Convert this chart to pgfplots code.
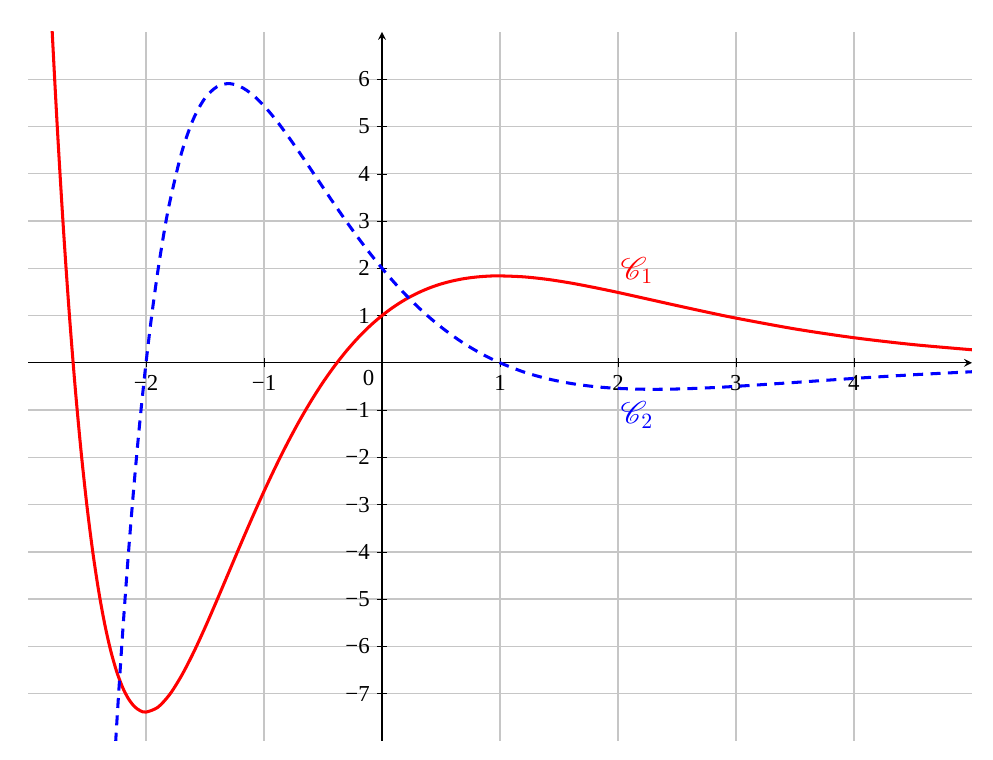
\documentclass[border=0pt]{standalone}
\usepackage{fontspec}
\setmainfont{Liberation Serif}
\usepackage{mathrsfs}
\usepackage{pgfplots}
\pgfplotsset{compat=1.18}
\begin{document}
\begin{tikzpicture}
\begin{axis}[
    scale only axis,
    width=434pt,
    height=326pt,
    axis lines=middle,
    xmin=-3, xmax=5,
    ymin=-8, ymax=7,
    xtick={-2,-1,1,2,3,4},
    xticklabels={−2,−1,1,2,3,4},
    ytick={-7,-6,-5,-4,-3,-2,-1,1,2,3,4,5,6},
    yticklabels={−7,−6,−5,−4,−3,−2,−1,1,2,3,4,5,6},
    ticklabel style={font=\fontsize{10.5}{12}\selectfont},
    grid=major,
    grid style={gray!45, line width=0.6pt},
    axis line style={black, line width=0.6pt},
    tick style={black},
]

% C1
\addplot[red, line width=1.4pt, smooth] coordinates {
    (-2.9,12.90)(-2.85,9.897)(-2.8,7.236)(-2.75,4.888)(-2.7,2.827)(-2.65,1.026)
    (-2.6,-0.539)(-2.55,-1.889)(-2.5,-3.046)(-2.45,-4.027)(-2.4,-4.850)
    (-2.35,-5.531)(-2.3,-6.084)(-2.25,-6.523)(-2.2,-6.859)(-2.15,-7.104)
    (-2.1,-7.268)(-2.05,-7.360)(-2,-7.389)(-1.9,-7.288)(-1.8,-7.018)
    (-1.7,-6.623)(-1.6,-6.142)(-1.5,-5.602)(-1.4,-5.028)(-1.3,-4.440)
    (-1.2,-3.851)(-1.1,-3.275)(-1,-2.718)(-0.9,-2.189)(-0.8,-1.691)
    (-0.7,-1.228)(-0.6,-0.802)(-0.5,-0.412)(-0.4,-0.060)(-0.3,0.256)
    (-0.2,0.537)(-0.1,0.785)(0,1)(0.1,1.185)(0.2,1.343)(0.3,1.474)
    (0.4,1.582)(0.5,1.668)(0.6,1.734)(0.7,1.783)(0.8,1.815)(0.9,1.834)
    (1,1.839)(1.2,1.819)(1.4,1.766)(1.6,1.688)(1.8,1.593)(2,1.489)
    (2.25,1.350)(2.5,1.211)(2.75,1.075)(3,0.946)(3.5,0.717)(4,0.531)
    (4.5,0.386)(5,0.276)
};

% C2
\addplot[blue, line width=1.4pt, dash pattern=on 4.6pt off 3.4pt, smooth] coordinates {
    (-2.3,-9.875)(-2.25,-7.709)(-2.2,-5.776)(-2.15,-4.056)(-2.1,-2.532)
    (-2.05,-1.185)(-2,0)(-1.95,1.037)(-1.9,1.939)(-1.85,2.719)(-1.8,3.388)
    (-1.7,4.434)(-1.6,5.151)(-1.5,5.602)(-1.4,5.839)(-1.3,5.908)
    (-1.2,5.843)(-1.1,5.678)(-1,5.437)(-0.9,5.141)(-0.8,4.807)
    (-0.7,4.450)(-0.6,4.082)(-0.5,3.710)(-0.4,3.342)(-0.3,2.983)
    (-0.2,2.638)(-0.1,2.310)(0,2)(0.1,1.710)(0.2,1.441)(0.3,1.193)
    (0.4,0.965)(0.5,0.758)(0.6,0.571)(0.7,0.402)(0.8,0.252)(0.9,0.118)
    (1,0)(1.2,-0.193)(1.4,-0.335)(1.6,-0.436)(1.8,-0.503)(2,-0.541)
    (2.25,-0.560)(2.5,-0.554)(2.75,-0.531)(3,-0.498)(3.5,-0.415)
    (4,-0.330)(4.5,-0.253)(5,-0.189)
};

\node[red, anchor=west, font=\Large, inner sep=1pt] at (axis cs:2,1.95) {$\mathscr{C}_1$};
\node[blue, anchor=west, font=\Large, inner sep=1pt] at (axis cs:2,-1.1) {$\mathscr{C}_2$};
\node[anchor=north east, font=\fontsize{10.5}{12}\selectfont] at (axis cs:0,0) {0};
\end{axis}
\path ([shift={(-12.9pt,-8.7pt)}]current axis.south west)
    rectangle ([shift={(9.7pt,14.7pt)}]current axis.north east);
\end{tikzpicture}
\end{document}
